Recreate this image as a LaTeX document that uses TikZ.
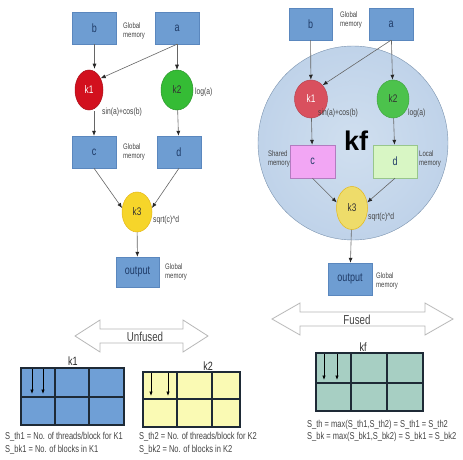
\documentclass[tikz,border=0pt]{standalone}
\usepackage{fontspec}
\setmainfont{Liberation Sans}
\newfontfamily\cond[FakeStretch=0.75]{Liberation Sans}
\usetikzlibrary{shapes.geometric,arrows.meta}
\definecolor{boxblue}{HTML}{6E9DD2}
\definecolor{boxedge}{HTML}{5A87BE}
\definecolor{boxtext}{HTML}{1E3A66}
\definecolor{kred}{HTML}{D2101E}
\definecolor{kgreen}{HTML}{35BC35}
\definecolor{kyellow}{HTML}{F6D52A}
\definecolor{kyedge}{HTML}{E6B818}
\definecolor{kredf}{HTML}{D9505E}
\definecolor{kgreenf}{HTML}{4CC24C}
\definecolor{kyellowf}{HTML}{EEDC6A}
\definecolor{pinkbox}{HTML}{F2A6F4}
\definecolor{pinkedge}{HTML}{B27CC0}
\definecolor{greenbox}{HTML}{D8F6C4}
\definecolor{greenedge}{HTML}{98C68C}
\definecolor{linegray}{HTML}{666666}
\definecolor{gridblue}{HTML}{6F9FD6}
\definecolor{gridyellow}{HTML}{FAFAB4}
\definecolor{gridteal}{HTML}{A7CFC3}
\definecolor{griddark}{HTML}{1E2A36}
\definecolor{sphin}{HTML}{D0DFEF}
\definecolor{sphmid}{HTML}{BCD0E8}
\definecolor{sphout}{HTML}{98B6DA}
\definecolor{arrowedge}{HTML}{B8B8B8}
\definecolor{labgray}{HTML}{444444}
\pgfdeclareradialshading{sphereshade}{\pgfpoint{0bp}{0bp}}{color(0bp)=(sphin); color(30bp)=(sphmid); color(50bp)=(sphout)}
\tikzset{
  memboxL/.style={rectangle, fill=boxblue, draw=boxedge, line width=0.4pt, minimum width=44pt, minimum height=32pt, inner sep=0pt, text=boxtext, font=\cond\fontsize{12}{14}\selectfont},
  kern/.style={ellipse, inner sep=0pt, line width=0.5pt, font=\cond\fontsize{11}{13}\selectfont},
  lab/.style={inner sep=0pt, text=labgray, font=\cond\fontsize{9}{10}\selectfont, align=left},
  memlab/.style={inner sep=0pt, text=labgray, font=\cond\fontsize{8}{9.5}\selectfont, align=left},
  conn/.style={draw=linegray, line width=0.6pt, -{Latex[length=5pt,width=4pt,color=black!85]}},
  gridbox/.style={draw=griddark, line width=1.3pt},
  tarrow/.style={draw=black, line width=0.7pt, -{Latex[length=4.5pt,width=3.5pt]}},
  note/.style={inner sep=0pt, anchor=west, text=labgray, font=\cond\fontsize{10}{12}\selectfont},
  ttl/.style={inner sep=0pt, text=labgray, font=\cond\fontsize{13}{15}\selectfont},
  gridlab/.style={inner sep=0pt, text=black!85, font=\cond\fontsize{12}{14}\selectfont}
}
\begin{document}
\begin{tikzpicture}[x=1pt,y=-1pt]
\useasboundingbox (0,0) rectangle (463,460);
\fill[white] (0,0) rectangle (463,460);

% ================= LEFT (unfused) =================
\node[memboxL] (bL) at (94.5,28) {b};
\node[memboxL] (aL) at (177,28) {a};
\node[memlab, anchor=west] (gmL1) at (123,31) {Global\\memory};
\node[kern, fill=kred, draw=kred!80!black, minimum width=28pt, minimum height=40pt, text=white] (k1L) at (89,90) {k1};
\node[kern, fill=kgreen, draw=kgreen!80!black, minimum width=32pt, minimum height=40pt, text=black!80] (k2L) at (177,90) {k2};
\node[lab, anchor=west] (sinL) at (102,112) {sin(a)+cos(b)};
\node[lab, anchor=west] (logL) at (195,92) {log(a)};
\node[memboxL] (cL) at (94,152) {c};
\node[memboxL] (dL) at (179,152) {d};
\node[memlab, anchor=west] (gmL2) at (123,152) {Global\\memory};
\node[kern, fill=kyellow, draw=kyedge, minimum width=30pt, minimum height=40pt, text=black!80] (k3L) at (137,212) {k3};
\node[lab, anchor=west] (sqL) at (153,220) {sqrt(c)\^{}d};
\node[memboxL, minimum width=43pt, minimum height=30pt] (outL) at (137.5,272) {output};
\node[memlab, anchor=west] (gmL3) at (165,272) {Global\\memory};

\draw[conn] (bL.south) -- ([yshift=1pt]bL.south |- k1L.north);
\draw[conn] (aL.south) -- (k1L.45);
\draw[conn] (aL) -- (k2L);
\draw[conn] ([yshift=-1pt]k1L.south -| cL.north) -- (cL.north);
\draw[conn] (k2L) -- (dL);
\draw[conn] (cL.south) -- (k3L.165);
\draw[conn] (dL.south) -- (k3L.15);
\draw[conn] (k3L) -- (outL);

% ================= RIGHT (fused) =================
\node[ellipse, minimum width=190pt, minimum height=194pt, inner sep=0pt] (sph) at (353,143) {};
\shade[shading=sphereshade] (353,143) ellipse [x radius=95, y radius=97];
\draw[sphout!80!black, line width=0.4pt] (353,143) ellipse [x radius=95, y radius=97];
\node[font=\bfseries\fontsize{27}{29}\selectfont, inner sep=0pt] (kf) at (356,141) {kf};

\node[memboxL, minimum width=43pt] (bR) at (310.5,24) {b};
\node[memboxL] (aR) at (391,24) {a};
\node[memlab, anchor=west] (gmR1) at (340,20) {Global\\memory};
\node[kern, fill=kredf, draw=kredf!85!black, minimum width=33pt, minimum height=38pt, text=white] (k1R) at (311,99) {k1};
\node[kern, fill=kgreenf, draw=kgreenf!85!black, minimum width=32pt, minimum height=38pt, text=black!80] (k2R) at (393,99) {k2};
\node[lab, anchor=west] (sinR) at (318,113) {sin(a)+cos(b)};
\node[lab, anchor=west] (logR) at (408,113) {log(a)};
\node[memboxL, fill=pinkbox, draw=pinkedge, minimum width=45pt, minimum height=33pt] (cR) at (312.5,161.5) {c};
\node[memboxL, fill=greenbox, draw=greenedge, minimum width=44pt, minimum height=33pt] (dR) at (395,161.5) {d};
\node[memlab, anchor=east, align=left] (shR) at (290,159) {Shared\\memory};
\node[memlab, anchor=west] (loR) at (419,159) {Local\\memory};
\node[kern, fill=kyellowf, draw=kyedge, minimum width=31pt, minimum height=43pt, text=black!80] (k3R) at (352,208) {k3};
\node[lab, anchor=west] (sqR) at (368,217) {sqrt(c)\^{}d};
\node[memboxL] (outR) at (350,279) {output};
\node[memlab, anchor=west] (gmR3) at (376,281) {Global\\memory};

\draw[conn] (bR) -- (k1R);
\draw[conn] (aR.south) -- (k1R.50);
\draw[conn] (aR) -- (k2R);
\draw[conn] (k1R) -- (cR);
\draw[conn] (k2R) -- (dR);
\draw[conn] (cR.south) -- (k3R.160);
\draw[conn] (dR.south) -- (k3R.20);
\draw[conn] (k3R) -- (outR);

% ================= BOTTOM LEFT =================
\draw[arrowedge, fill=white, line width=0.8pt]
  (75,336) -- (100,320) -- (100,329) -- (183,329) -- (183,320) -- (208,336)
  -- (183,352) -- (183,343) -- (100,343) -- (100,352) -- cycle;
\node[ttl] (unf) at (145,337) {Unfused};

\node[gridlab] (g1lab) at (73,361) {k1};
\fill[gridblue] (21,368) rectangle (124,425);
\draw[gridbox] (21,368) rectangle (124,425);
\draw[gridbox] (55,368) -- (55,425) (89,368) -- (89,425) (21,397) -- (124,397);
\coordinate (t1a) at (32,369); \coordinate (t1b) at (32,394);
\coordinate (t2a) at (43,369); \coordinate (t2b) at (43,394);
\draw[tarrow] (t1a) -- (t1b);
\draw[tarrow] (t2a) -- (t2b);

\node[gridlab] (g2lab) at (208,366) {k2};
\fill[gridyellow] (143,372) rectangle (240,427);
\draw[gridbox] (143,372) rectangle (240,427);
\draw[gridbox] (177,372) -- (177,427) (212,372) -- (212,427) (143,399) -- (240,399);
\coordinate (t3a) at (151,373); \coordinate (t3b) at (151,396);
\coordinate (t4a) at (168,373); \coordinate (t4b) at (168,396);
\draw[tarrow] (t3a) -- (t3b);
\draw[tarrow] (t4a) -- (t4b);

\node[note] (n1) at (5,437) {S\_th1 = No. of threads/block for K1};
\node[note] (n2) at (5,450) {S\_bk1 = No. of blocks in K1};
\node[note] (n3) at (139,437) {S\_th2 = No. of threads/block for K2};
\node[note] (n4) at (139,450) {S\_bk2 = No. of blocks in K2};

% ================= BOTTOM RIGHT =================
\draw[arrowedge, fill=white, line width=0.8pt]
  (272,319) -- (300,303) -- (300,312) -- (425,312) -- (425,303) -- (453,319)
  -- (425,335) -- (425,326) -- (300,326) -- (300,335) -- cycle;
\node[ttl] (fus) at (357,320) {Fused};

\node[gridlab] (g3lab) at (363,347) {kf};
\fill[gridteal] (316,353) rectangle (423,411);
\draw[gridbox] (316,353) rectangle (423,411);
\draw[gridbox] (351,353) -- (351,411) (387,353) -- (387,411) (316,383) -- (423,383);
\coordinate (t5a) at (324,354); \coordinate (t5b) at (324,380);
\coordinate (t6a) at (337,354); \coordinate (t6b) at (337,380);
\draw[tarrow] (t5a) -- (t5b);
\draw[tarrow] (t6a) -- (t6b);

\node[note] (n5) at (307,425) {S\_th = max(S\_th1,S\_th2) = S\_th1 = S\_th2};
\node[note] (n6) at (307,437) {S\_bk = max(S\_bk1,S\_bk2) = S\_bk1 = S\_bk2};
\end{tikzpicture}
\end{document}
